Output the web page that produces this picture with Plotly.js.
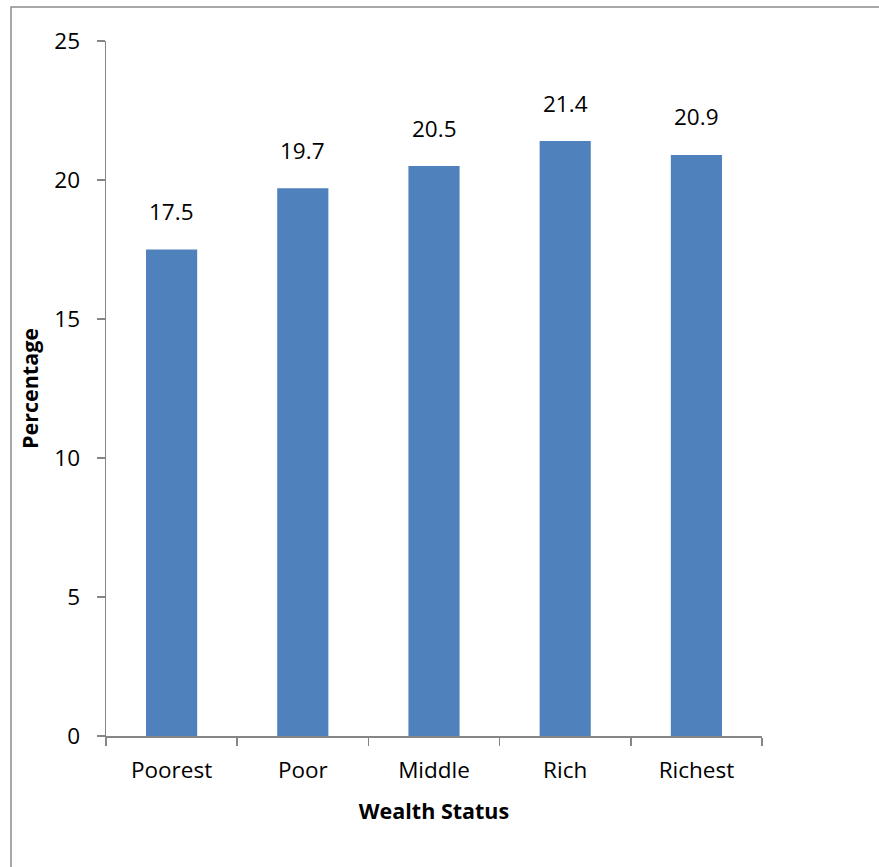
<!DOCTYPE html>
<html>
<head>
<meta charset="utf-8">
<script src="https://cdn.plot.ly/plotly-3.0.1.min.js"></script>
<style>html,body{margin:0;padding:0;background:#fff;}#chart{width:879px;height:867px;}</style>
</head>
<body>
<div id="chart"></div>
<script>
const categories = ["Poorest", "Poor", "Middle", "Rich", "Richest"];
const values = [17.5, 19.7, 20.5, 21.4, 20.9];
const yTicks = [0, 5, 10, 15, 20, 25];

const FONT = "'Open Sans', 'Noto Sans', sans-serif";
const AXISC = "#868686";
const FS = 22.5;

const trace = {
  type: "bar",
  x: categories,
  y: values,
  marker: {color: "#4F81BD"},
  hoverinfo: "none"
};

const annotations = categories.map((c, i) => ({
  x: c, y: values[i], xref: "x", yref: "y",
  text: values[i].toFixed(1), showarrow: false,
  yshift: 38, font: {family: FONT, size: FS, color: "#000"}
}));

const layout = {
  width: 879, height: 867,
  margin: {l: 106, r: 117, t: 41, b: 131, pad: 0},
  paper_bgcolor: "#fff", plot_bgcolor: "#fff",
  bargap: 0.61,
  showlegend: false,
  font: {family: FONT, size: FS, color: "#000"},
  xaxis: {
    type: "category",
    showline: true, linecolor: AXISC, linewidth: 1.5,
    ticks: "outside", tickcolor: AXISC, ticklen: 8, tickwidth: 1.5,
    tickson: "boundaries",
    tickfont: {family: FONT, size: FS, color: "#000"},
    ticklabelstandoff: 13,
    showgrid: false, zeroline: false,
    title: {text: "<b>Wealth Status</b>", font: {family: FONT, size: FS - 1, color: "#000"}, standoff: 20}
  },
  yaxis: {
    range: [0, 25],
    tickvals: yTicks,
    ticktext: yTicks.map(String),
    showline: true, linecolor: AXISC, linewidth: 1.5,
    ticks: "outside", tickcolor: AXISC, ticklen: 8, tickwidth: 1.5,
    tickfont: {family: FONT, size: FS, color: "#000"},
    ticklabelstandoff: 12,
    showgrid: false, zeroline: false,
    title: {text: "<b>Percentage</b>", font: {family: FONT, size: FS - 1, color: "#000"}, standoff: 9}
  },
  annotations: annotations,
  shapes: [{
    type: "rect", xref: "paper", yref: "paper",
    x0: -95/656, x1: 1.3, y0: -0.3, y1: 1 + 34/695,
    line: {color: "#8c8c8c", width: 1.5}, fillcolor: "rgba(0,0,0,0)", layer: "below"
  }]
};

Plotly.newPlot("chart", [trace], layout, {displayModeBar: false, staticPlot: true});
</script>
</body>
</html>
